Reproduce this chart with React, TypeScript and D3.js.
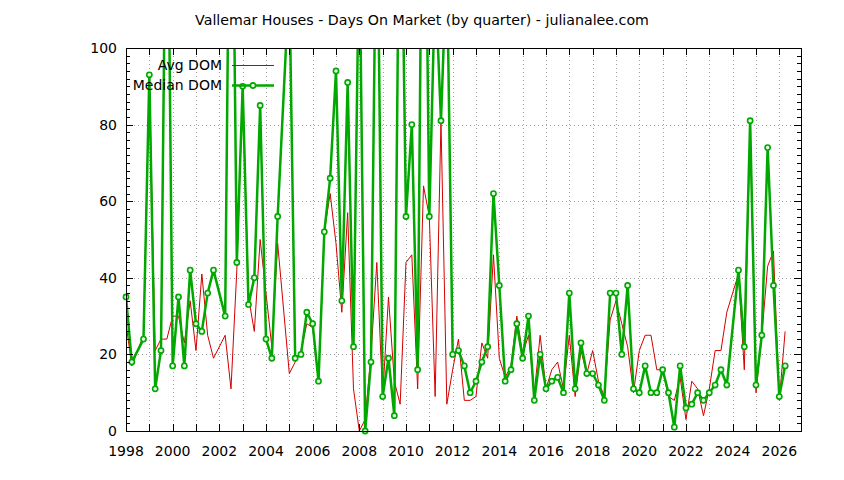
import React, { useEffect, useRef } from 'react';
import * as d3 from 'd3';

// quarter (decimal year) and days on market
const avgQuarters = [
  1998.0, 1998.25, 1998.75, 1999.0, 1999.25, 1999.5, 1999.75,
  2000.0, 2000.25, 2000.5, 2000.75, 2001.0, 2001.25, 2001.5, 2001.75,
  2002.25, 2002.5, 2002.75, 2003.0, 2003.25, 2003.5, 2003.75,
  2004.0, 2004.25, 2004.5, 2005.0, 2005.25, 2005.5, 2005.75,
  2006.0, 2006.25, 2006.5, 2006.75, 2007.0, 2007.25, 2007.5, 2007.75,
  2008.0, 2008.25, 2008.5, 2008.75, 2009.0, 2009.25, 2009.5, 2009.75,
  2010.0, 2010.25, 2010.5, 2010.75, 2011.0, 2011.25, 2011.5, 2011.75,
  2012.0, 2012.25, 2012.5, 2012.75, 2013.0, 2013.25, 2013.5, 2013.75,
  2014.0, 2014.25, 2014.5, 2014.75, 2015.0, 2015.25, 2015.5, 2015.75,
  2016.0, 2016.25, 2016.5, 2016.75, 2017.0, 2017.25, 2017.5, 2017.75,
  2018.0, 2018.25, 2018.5, 2018.75, 2019.0, 2019.25, 2019.5, 2019.75,
  2020.0, 2020.25, 2020.5, 2020.75, 2021.0, 2021.25, 2021.5, 2021.75,
  2022.0, 2022.25, 2022.5, 2022.75, 2023.0, 2023.25, 2023.5, 2023.75,
  2024.0, 2024.25, 2024.5, 2024.75, 2025.0, 2025.25, 2025.5, 2025.75,
  2026.0, 2026.25,
];
const avgDom = [
  28, 17, 25, 92, 21, 24, 24,
  30, 30, 23, 34, 21, 41, 25, 19,
  25, 11, 42, 90, 35, 26, 50,
  36, 22, 49, 15, 18, 21, 28,
  27, 13, 52, 62, 49, 31, 57, 11,
  0, 3, 20, 44, 9, 35, 13, 7,
  44, 46, 11, 64, 56, 9, 81, 7,
  16, 24, 8, 8, 9, 23, 19, 46,
  19, 14, 17, 30, 20, 25, 10, 25,
  11, 16, 18, 11, 25, 9, 21, 15,
  21, 13, 9, 29, 34, 28, 22, 10,
  21, 25, 25, 16, 16, 9, 8, 14,
  3, 13, 11, 4, 11, 21, 21, 31,
  36, 41, 16, 80, 10, 25, 43, 47,
  8, 26,
];

const medianQuarters = [
  1998.0, 1998.25, 1998.75, 1999.0, 1999.25, 1999.5, 1999.75,
  2000.0, 2000.25, 2000.5, 2000.75, 2001.0, 2001.25, 2001.5, 2001.75,
  2002.25, 2002.5, 2002.75, 2003.0, 2003.25, 2003.5, 2003.75,
  2004.0, 2004.25, 2004.5, 2005.0, 2005.25, 2005.5, 2005.75,
  2006.0, 2006.25, 2006.5, 2006.75, 2007.0, 2007.25, 2007.5, 2007.75,
  2008.0, 2008.25, 2008.5, 2008.75, 2009.0, 2009.25, 2009.5, 2009.75,
  2010.0, 2010.25, 2010.5, 2010.75, 2011.0, 2011.25, 2011.5, 2011.75,
  2012.0, 2012.25, 2012.5, 2012.75, 2013.0, 2013.25, 2013.5, 2013.75,
  2014.0, 2014.25, 2014.5, 2014.75, 2015.0, 2015.25, 2015.5, 2015.75,
  2016.0, 2016.25, 2016.5, 2016.75, 2017.0, 2017.25, 2017.5, 2017.75,
  2018.0, 2018.25, 2018.5, 2018.75, 2019.0, 2019.25, 2019.5, 2019.75,
  2020.0, 2020.25, 2020.5, 2020.75, 2021.0, 2021.25, 2021.5, 2021.75,
  2022.0, 2022.25, 2022.5, 2022.75, 2023.0, 2023.25, 2023.5, 2023.75,
  2024.25, 2024.5, 2024.75, 2025.0, 2025.25, 2025.5, 2025.75,
  2026.0, 2026.25,
];
const medianDom = [
  35, 18, 24, 93, 11, 21, 170,
  17, 35, 17, 42, 28, 26, 36, 42,
  30, 185, 44, 90, 33, 40, 85,
  24, 19, 56, 118, 19, 20, 31,
  28, 13, 52, 66, 94, 34, 91, 22,
  130, 0, 18, 152, 9, 19, 4, 165,
  56, 80, 16, 190, 56, 118, 81, 124,
  20, 21, 17, 10, 13, 18, 22, 62,
  38, 13, 16, 28, 19, 30, 8, 20,
  11, 13, 14, 10, 36, 11, 23, 15,
  15, 12, 8, 36, 36, 20, 38, 11,
  10, 17, 10, 10, 16, 10, 1, 17,
  6, 7, 10, 8, 10, 12, 16, 12,
  42, 22, 81, 12, 25, 74, 38,
  9, 17,
];

const yearTicks = d3.range(1998, 2027);
const yMajorTicks = [0, 20, 40, 60, 80, 100];
const yMinorTicks = d3.range(0, 101, 2);

const W = 844;
const H = 480;
const FONT = '"DejaVu Sans", sans-serif';
const RED = '#d40000';
const GREEN = '#00a800';

const App: React.FC = () => {
  const svgRef = useRef<SVGSVGElement>(null);

  useEffect(() => {
    if (!svgRef.current) return;
    d3.select(svgRef.current).selectAll('*').remove();
    const svg = d3.select(svgRef.current);

    const left = 126, right = 801, top = 48, bottom = 431;
    const x = d3.scaleLinear().domain([1998, 2026.93]).range([left, right]);
    const y = d3.scaleLinear().domain([0, 100]).range([bottom, top]);

    svg.append('rect').attr('width', W).attr('height', H).attr('fill', '#fff');

    svg.append('defs').append('clipPath').attr('id', 'plot-clip')
      .append('rect')
      .attr('x', left).attr('y', top)
      .attr('width', right - left).attr('height', bottom - top);

    // dotted grid
    const grid = svg.append('g')
      .attr('stroke', '#a0a0a0')
      .attr('stroke-width', 1)
      .attr('stroke-dasharray', '1,3');
    yearTicks.filter(t => t > 1998).forEach(t => {
      grid.append('line')
        .attr('x1', Math.round(x(t)) + 0.5).attr('x2', Math.round(x(t)) + 0.5)
        .attr('y1', top).attr('y2', bottom);
    });
    yMajorTicks.filter(t => t > 0 && t < 100).forEach(t => {
      grid.append('line')
        .attr('x1', left).attr('x2', right)
        .attr('y1', Math.round(y(t)) + 0.5).attr('y2', Math.round(y(t)) + 0.5);
    });

    // series (lines clipped to the plot box, points kept whole)
    const plot = svg.append('g').attr('clip-path', 'url(#plot-clip)');
    const line = d3.line<[number, number]>()
      .x(d => x(d[0]))
      .y(d => y(d[1]));

    const avgPts = avgQuarters.map((q, i) => [q, avgDom[i]] as [number, number]);
    const medPts = medianQuarters.map((q, i) => [q, medianDom[i]] as [number, number]);

    plot.append('path')
      .datum(avgPts)
      .attr('d', line)
      .attr('fill', 'none')
      .attr('stroke', RED)
      .attr('stroke-width', 1);

    plot.append('path')
      .datum(medPts)
      .attr('d', line)
      .attr('fill', 'none')
      .attr('stroke', GREEN)
      .attr('stroke-width', 2.5)
      .attr('stroke-linejoin', 'round');

    svg.append('g').selectAll('circle')
      .data(medPts.filter(d => d[1] <= 100))
      .enter()
      .append('circle')
      .attr('cx', d => x(d[0]))
      .attr('cy', d => y(d[1]))
      .attr('r', 2.6)
      .attr('fill', '#e6f6e6')
      .attr('stroke', GREEN)
      .attr('stroke-width', 1.6);

    // border
    svg.append('rect')
      .attr('x', left + 0.5).attr('y', top + 0.5)
      .attr('width', right - left).attr('height', bottom - top)
      .attr('fill', 'none')
      .attr('stroke', '#000')
      .attr('stroke-width', 1);

    // ticks, mirrored on the opposite borders
    const ticks = svg.append('g').attr('stroke', '#000').attr('stroke-width', 1);
    yearTicks.forEach(t => {
      const px = Math.round(x(t)) + 0.5;
      ticks.append('line').attr('x1', px).attr('x2', px).attr('y1', bottom).attr('y2', bottom - 7);
      ticks.append('line').attr('x1', px).attr('x2', px).attr('y1', top).attr('y2', top + 7);
    });
    yMinorTicks.forEach(t => {
      const py = Math.round(y(t)) + 0.5;
      const len = t % 20 === 0 ? 7 : 4;
      ticks.append('line').attr('x1', left).attr('x2', left + len).attr('y1', py).attr('y2', py);
      ticks.append('line').attr('x1', right).attr('x2', right - len).attr('y1', py).attr('y2', py);
    });

    // tick labels
    const labels = svg.append('g')
      .style('font-family', FONT)
      .style('font-size', '14px')
      .attr('fill', '#000');
    yMajorTicks.forEach(t => {
      labels.append('text')
        .attr('x', 117)
        .attr('y', y(t))
        .attr('dy', '0.36em')
        .attr('text-anchor', 'end')
        .text(t);
    });
    yearTicks.filter(t => t % 2 === 0).forEach(t => {
      labels.append('text')
        .attr('x', x(t))
        .attr('y', 456)
        .attr('text-anchor', 'middle')
        .text(t);
    });

    // title
    svg.append('text')
      .attr('x', W / 2)
      .attr('y', 25)
      .attr('text-anchor', 'middle')
      .style('font-family', FONT)
      .style('font-size', '14.2px')
      .text('Vallemar Houses - Days On Market (by quarter) - julianalee.com');

    // key
    const key = svg.append('g')
      .style('font-family', FONT)
      .style('font-size', '14px');
    const keyRows = [
      { label: 'Avg DOM', color: RED, width: 1, point: false, yy: 65 },
      { label: 'Median DOM', color: GREEN, width: 2.5, point: true, yy: 85 },
    ];
    keyRows.forEach(row => {
      key.append('text')
        .attr('x', 222)
        .attr('y', row.yy)
        .attr('dy', '0.36em')
        .attr('text-anchor', 'end')
        .text(row.label);
      key.append('line')
        .attr('x1', 232).attr('x2', 274)
        .attr('y1', row.yy + 0.5).attr('y2', row.yy + 0.5)
        .attr('stroke', row.color)
        .attr('stroke-width', row.width);
      if (row.point) {
        key.append('circle')
          .attr('cx', 253).attr('cy', row.yy + 0.5)
          .attr('r', 2.6)
          .attr('fill', '#e6f6e6')
          .attr('stroke', row.color)
          .attr('stroke-width', 1.6);
      }
    });
  }, []);

  return (
    <svg
      ref={svgRef}
      width={W}
      height={H}
      style={{ position: 'absolute', left: 0, top: 0, display: 'block' }}
    />
  );
};

export default App;
